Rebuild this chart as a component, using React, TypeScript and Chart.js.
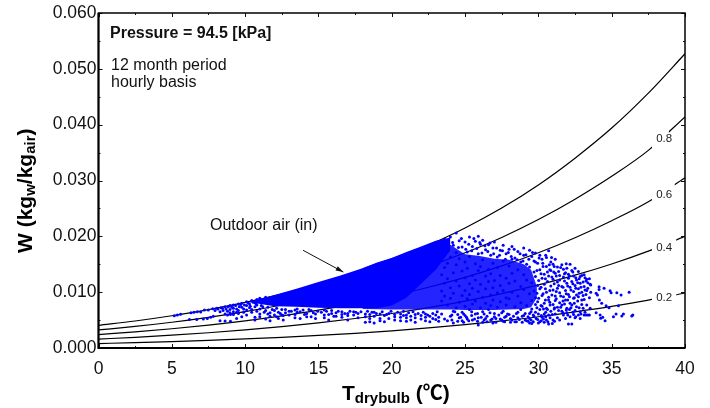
import React, { useEffect, useRef } from "react";
import { Chart, registerables } from "chart.js";

Chart.register(...registerables);

const FONT = '"Liberation Sans", Arial, sans-serif';
const temps = [0, 2.5, 5, 7.5, 10, 12.5, 15, 17.5, 20, 22.5, 25, 27.5, 30, 32.5, 35, 37.5, 40];
const rh100 = [0.00405, 0.00484, 0.00578, 0.00687, 0.00816, 0.00965, 0.01138, 0.01339, 0.01572, 0.01842, 0.0215, 0.02506, 0.0292, 0.034, 0.03939, 0.04565, 0.0527];
const rh80 = [0.00323, 0.00386, 0.00461, 0.00549, 0.00651, 0.0077, 0.00907, 0.01067, 0.01251, 0.01463, 0.01705, 0.0198, 0.023, 0.02665, 0.03075, 0.0354, 0.0414];
const rh60 = [0.00241, 0.00289, 0.00345, 0.0041, 0.00486, 0.00575, 0.00677, 0.00795, 0.00931, 0.01088, 0.01265, 0.0147, 0.01705, 0.01975, 0.0228, 0.0262, 0.0305];
const rh40 = [0.0016, 0.00192, 0.0023, 0.00273, 0.00324, 0.00382, 0.0045, 0.00528, 0.00618, 0.00722, 0.0084, 0.00975, 0.0113, 0.01305, 0.01505, 0.01735, 0.02];
const rh20 = [0.0008, 0.00096, 0.00115, 0.00137, 0.00162, 0.00191, 0.00225, 0.00263, 0.00308, 0.0036, 0.00418, 0.00485, 0.0056, 0.00648, 0.00745, 0.00858, 0.00985];

// Dense part of the cloud: [T, upper W, lower W]
const coreBand = [
  [10.3, 8.3, 8.2], [12, 9.5, 7.5], [13.5, 10.6, 7.4], [15, 11.8, 7.2], [16.5, 13.0, 7.1], [18, 14.3, 7.1], [19, 15.3, 7.1],
  [20, 16.1, 7.6], [21, 17.2, 9.0], [22, 18.2, 11.5], [23, 19.2, 14.0], [24, 19.8, 17.5],
];
const bodyBand = [
  [18, 14.3, 7.0], [20, 16.1, 6.9], [22, 18.0, 6.9], [24, 18.5, 6.9], [25, 16.8, 6.8], [26, 16.5, 6.8], [27, 16.0, 6.8],
  [28, 15.8, 6.9], [29, 15.0, 7.0], [29.5, 14.0, 7.3], [29.9, 11.0, 9.0],
];

// Individually read points: [T, W1, W2, ...], W in g/kg
const cloudRows: number[][] = [
  [5.17, 5.79], [5.38, 5.91], [5.6, 6.03], [6.2, 5.1], [6.31, 6.33], [6.51, 6.39], [6.7, 5.1], [6.74, 6.5], [6.97, 6.45], [7.15, 5.2],
  [7.22, 6.8], [7.42, 5.3], [7.49, 6.8], [7.65, 5.5], [7.79, 7.04], [7.83, 5.7], [8.06, 7.1], [8.29, 4.9, 6.5], [8.36, 7.2], [8.5, 6.7],
  [8.63, 7.4, 4.84, 6.1], [8.8, 6.6, 5.9], [8.97, 7.6, 6.9, 6.3], [9.0, 4.8, 6.0], [9.2, 7.7, 7.1, 6.5, 6.0], [9.42, 5.3, 6.4, 7.0], [9.54, 7.9, 6.2, 6.7],
  [9.77, 5.6, 7.3, 8.0], [9.9, 7.0, 6.4], [10.1, 8.3, 7.6, 5.9, 6.8], [10.3, 7.9, 7.2], [10.45, 8.5, 6.9, 6.4], [10.67, 5.0, 5.5, 7.4, 8.1], [10.8, 8.7, 6.6, 7.7],
  [11.0, 8.9, 7.0, 6.1, 5.6], [11.2, 8.2, 7.4], [11.4, 9.1, 6.7, 5.2], [11.7, 6.3, 5.7, 4.9], [12.0, 5.9, 6.7], [12.27, 6.4, 5.3], [12.5, 6.9, 5.9],
  [12.6, 5.8, 5.0], [13.0, 5.9, 6.6], [13.4, 6.0, 5.4, 6.8], [13.75, 5.3, 6.5], [14.2, 6.2, 5.6], [14.5, 5.6, 6.7], [14.8, 5.3, 6.1], [15.4, 6.8, 5.9, 5.4],
  [15.7, 6.0, 5.0], [16.2, 6.3, 5.7], [16.6, 6.5, 5.5, 6.0], [17.0, 6.2, 5.8, 5.0], [17.4, 5.9, 6.5], [17.7, 6.2, 5.4], [18.2, 6.1, 5.6, 4.6], [18.5, 5.3, 4.7, 6.0],
  [18.8, 4.5, 5.7, 6.4], [19.2, 5.3, 4.9, 6.1], [19.5, 4.7, 5.8], [19.8, 5.3, 6.2], [20.2, 5.0, 5.6, 6.0], [20.6, 4.9, 5.5, 6.1], [21.0, 5.4, 4.8, 5.9], [21.3, 5.7, 5.0],
  [21.6, 4.6, 5.4, 6.0], [22.0, 5.2, 5.8], [22.3, 4.9, 5.5, 6.1], [22.6, 5.7, 4.7], [23.0, 5.1, 5.9], [23.2, 4.8, 5.5, 17.4, 15.8],
  [23.4, 18.9, 16.8, 13.1, 10.2, 8.4, 6.1], [23.6, 19.5, 14.4, 11.6, 9.3, 5.2], [23.8, 17.9, 15.2, 12.4, 7.7, 4.9], [24.0, 19.9, 16.3, 10.8, 8.9, 5.7],
  [24.2, 18.4, 13.5, 9.8, 4.5, 6.6], [24.4, 20.6, 17.1, 14.9, 12.0, 7.2], [24.6, 19.2, 16.0, 11.1, 8.2, 5.4], [24.8, 18.1, 13.8, 9.4, 6.4, 4.9],
  [25.0, 19.0, 15.4, 12.6, 10.3, 7.5, 5.8], [25.15, 17.2, 14.3, 8.8, 5.2], [25.3, 19.9, 16.4, 11.5, 9.6, 6.9], [25.5, 18.2, 13.0, 10.7, 7.9, 5.0],
  [25.7, 19.1, 15.1, 12.2, 8.4, 6.1], [25.9, 20.0, 16.9, 13.9, 10.1, 4.1, 5.4], [26.05, 18.6, 14.6, 11.4, 7.2], [26.2, 19.3, 15.8, 9.1, 6.5, 4.6],
  [26.4, 17.6, 12.9, 10.6, 8.0, 5.3], [26.6, 18.5, 14.1, 11.9, 6.9], [26.75, 16.6, 13.3, 9.5, 7.6, 5.0], [26.9, 17.9, 15.2, 10.8, 8.6, 4.5],
  [27.0, 19.0, 12.1, 6.2, 5.6], [27.2, 16.3, 14.4, 9.9, 7.3], [27.4, 17.5, 13.0, 11.2, 8.3, 5.2], [27.6, 18.4, 15.6, 10.3, 6.6, 4.8],
  [27.8, 16.9, 12.5, 9.0, 7.7, 5.7], [28.0, 17.7, 14.7, 11.6, 8.8, 6.0], [28.2, 18.2, 15.9, 13.4, 10.0, 5.0], [28.4, 16.1, 12.0, 7.4, 4.7],
  [28.6, 17.3, 14.0, 9.3, 6.4, 5.4], [28.8, 15.4, 11.0, 8.1, 6.9], [29.0, 17.9, 16.6, 13.1, 10.5, 5.8], [29.2, 15.0, 12.2, 7.6, 4.9],
  [29.4, 17.5, 14.5, 9.7, 6.2, 5.3, 4.5], [29.55, 16.4, 11.7, 8.5, 7.0, 4.4], [29.7, 13.6, 10.2, 5.7, 15.6], [29.8, 17.0, 12.8, 9.0, 7.8, 6.4],
  [29.95, 15.2, 11.2, 8.3, 5.1], [30.1, 16.6, 14.0, 10.6, 6.9, 4.7], [30.25, 15.9, 12.5, 9.4, 7.5, 5.5], [30.4, 13.2, 11.4, 8.0, 6.1, 4.6],
  [30.55, 16.2, 14.6, 10.0, 7.1, 5.0], [30.7, 17.4, 12.9, 9.1, 8.6, 4.3, 5.9], [30.85, 15.4, 11.1, 13.9, 6.6], [31.0, 15.0, 10.4, 7.8, 5.0, 12.3],
  [31.15, 15.9, 13.4, 9.3, 6.1, 8.5], [31.3, 14.5, 11.8, 7.3, 5.4, 10.7], [31.45, 13.0, 9.9, 8.1, 5.0, 12.2], [31.6, 14.9, 11.0, 6.6, 7.7],
  [31.71, 14.1, 5.9, 9.2, 12.7], [31.85, 13.5, 10.3, 8.6, 5.3], [31.94, 14.3, 11.6, 7.1, 6.3], [32.05, 12.5, 9.6, 4.3, 13.2], [32.16, 15.0, 10.9, 8.0, 5.6],
  [32.28, 13.9, 11.9, 7.7, 4.3], [32.4, 12.9, 10.1, 8.9, 6.0], [32.5, 14.3, 11.2, 6.7, 5.4], [32.6, 12.2, 9.5, 7.4], [32.73, 13.7, 10.6, 9.2, 5.9],
  [32.85, 11.6, 12.8, 5.3, 6.5], [32.96, 8.6, 10.0, 13.0, 7.8], [33.12, 8.7, 11.0, 13.1, 5.9], [33.25, 5.91, 9.6, 12.0], [33.3, 7.7, 10.3, 12.3],
  [33.37, 5.91, 10.7, 11.7], [33.48, 5.91, 9.0, 12.4], [33.53, 7.1, 11.4], [33.57, 11.3, 10.0], [33.94, 9.79, 6.33], [34.03, 9.49], [34.14, 10.98, 10.5],
  [34.16, 8.59], [34.21, 5.91], [34.25, 5.31], [34.32, 8.0], [34.39, 5.49], [34.48, 10.68], [34.55, 4.89], [34.62, 7.58], [34.82, 7.22],
  [34.89, 10.27], [34.96, 9.91], [35.12, 5.61], [35.3, 6.09], [35.35, 9.91], [35.46, 7.58], [35.64, 9.49], [35.69, 5.73], [35.8, 6.09],
  [36.19, 9.97], [36.37, 5.73], [36.44, 5.91],
];
const edgeRows: number[][] = [
  [7.95, 6.7], [8.15, 7.0], [8.45, 7.1], [8.7, 7.0], [8.85, 7.4], [9.1, 7.3], [9.35, 7.6], [9.6, 7.4], [9.7, 7.8], [9.95, 7.7], [10.2, 8.1], [10.35, 7.5], [10.55, 8.2], [10.75, 7.9],
  [11.1, 7.6], [11.3, 6.4], [11.55, 7.3, 6.1], [11.85, 6.9], [12.15, 7.1, 5.6], [12.4, 6.2], [12.75, 6.9, 6.3], [13.15, 6.6], [13.55, 6.4, 7.0], [13.95, 6.8], [14.05, 6.0], [14.35, 6.9],
  [14.65, 6.3], [14.95, 6.6], [15.2, 6.4], [15.55, 6.6], [15.9, 6.7, 6.2], [16.05, 5.7], [16.35, 6.6], [16.8, 6.2], [17.15, 6.6], [17.55, 6.4], [17.9, 6.5], [18.35, 6.6], [18.65, 6.4],
  [18.95, 6.2], [19.35, 6.5], [19.65, 6.0], [19.95, 6.6], [20.4, 6.4], [20.8, 6.6, 5.8], [21.15, 6.3], [21.45, 6.5], [21.8, 6.2], [22.15, 6.4], [22.45, 5.9], [22.8, 6.2, 5.3], [23.1, 6.5],
  [24.1, 5.9, 5.0], [24.3, 6.5], [24.5, 4.8, 6.0], [24.7, 5.5], [24.9, 6.1, 4.6], [25.1, 5.5], [25.25, 4.9], [25.45, 5.8, 6.5], [25.65, 5.2], [25.85, 4.8, 6.2], [26.1, 5.5], [26.3, 5.0, 6.1],
  [26.5, 5.7, 4.7], [26.7, 6.3], [26.85, 5.2], [27.1, 5.3, 4.6], [27.3, 5.9], [27.5, 5.0, 6.3], [27.7, 4.7, 5.5], [27.9, 6.1], [28.1, 5.3, 4.6], [28.3, 5.7], [28.5, 4.7, 6.2], [28.7, 5.1],
  [28.9, 5.7, 4.6], [29.1, 6.2, 5.0], [29.3, 5.6, 4.8], [29.5, 6.5, 5.0], [29.65, 4.7, 5.9], [29.85, 5.3], [30.0, 4.5, 6.1], [30.2, 4.9, 5.8], [30.35, 5.2, 7.0], [30.5, 6.4, 5.6], [30.65, 4.7],
  [30.8, 5.4, 7.7], [30.95, 4.4, 6.0], [31.1, 4.8, 7.2],
  [24.15, 18.9], [24.55, 18.0], [24.75, 19.6], [25.05, 17.7], [25.25, 18.6], [25.45, 17.4], [25.6, 19.6], [25.8, 17.8], [26.0, 18.9], [26.15, 17.0], [26.35, 18.3], [26.55, 17.3], [26.7, 18.8],
  [26.95, 16.9], [27.15, 17.9], [27.35, 16.6], [27.55, 17.4], [27.75, 15.9], [27.95, 17.1], [28.15, 16.4], [28.35, 17.7], [28.55, 15.8], [28.75, 16.9], [28.95, 15.6], [29.15, 16.7], [29.35, 15.9],
  [29.6, 17.1], [29.8, 15.4], [30.05, 16.1], [30.3, 15.2], [30.5, 16.6], [30.75, 14.9], [30.9, 16.2], [31.05, 13.6],
  [29.9, 13.9, 9.8, 7.2], [30.02, 12.1, 8.9], [30.18, 13.3, 10.9, 7.6], [30.32, 14.6, 9.7], [30.48, 12.4, 8.6, 10.6], [30.62, 13.6, 11.9, 6.9], [30.78, 10.3, 8.2, 14.0], [30.92, 12.7, 9.5],
  [31.08, 11.5, 7.0, 14.6], [31.22, 12.9, 8.8, 10.1], [31.38, 13.7, 11.2, 6.7], [31.52, 9.3, 7.3, 14.4], [31.68, 10.9, 8.4, 6.3], [31.78, 12.0, 13.3, 7.9], [31.9, 9.7, 6.8, 15.1], [32.0, 8.6, 11.1, 5.9],
  [32.12, 12.9, 9.2, 6.9], [32.22, 10.4, 7.2], [32.35, 11.5, 13.6, 6.4], [32.45, 9.0, 8.0], [32.55, 10.7, 12.6, 5.6], [32.68, 8.4, 11.7], [32.78, 7.2, 9.8, 12.4], [32.9, 10.9, 6.1],
  [33.05, 9.4, 11.8, 7.1], [33.18, 10.4, 6.4, 12.6],
];

const curveLabels = [
  { text: "0.8", t: 38.85, w: 0.03745, top: 0.0412, bottom: 0.0340, boxEnd: 38.9 },
  { text: "0.6", t: 38.85, w: 0.02745, top: 0.0304, bottom: 0.0256, boxEnd: 39.3 },
  { text: "0.4", t: 38.85, w: 0.01795, top: 0.0198, bottom: 0.0168, boxEnd: 39.4 },
  { text: "0.2", t: 38.85, w: 0.00895, top: 0.0102, bottom: 0.0082, boxEnd: 39.4 },
];
const arrowTail = { x: 13.95, y: 0.0175 };
const arrowTip = { x: 16.7, y: 0.0136 };
const xMajor = [0, 5, 10, 15, 20, 25, 30, 35, 40];
const xMinor = [2.5, 7.5, 12.5, 17.5, 22.5, 27.5, 32.5, 37.5];
const yMajor = [0, 0.01, 0.02, 0.03, 0.04, 0.05, 0.06];
const yMinor = [0.005, 0.015, 0.025, 0.035, 0.045, 0.055];

function drawRuns(ctx: CanvasRenderingContext2D, runs: { t: string; f: string; dy?: number }[], x: number, y: number) {
  let cx = x;
  for (const r of runs) {
    ctx.font = r.f;
    ctx.fillText(r.t, cx, y + (r.dy || 0));
    cx += ctx.measureText(r.t).width;
  }
}

const chrome = {
  id: "chrome",
  afterDatasetsDraw(chart: any) {
    const { ctx, scales: { x, y }, chartArea: a } = chart;
    ctx.save();
    ctx.textBaseline = "middle";
    ctx.textAlign = "left";
    for (const l of curveLabels) {
      ctx.fillStyle = "#fff";
      const lx = x.getPixelForValue(37.75);
      const rx = x.getPixelForValue(l.boxEnd);
      const ty = y.getPixelForValue(l.top);
      const by = y.getPixelForValue(l.bottom);
      ctx.fillRect(lx, ty, rx - lx, by - ty);
      ctx.fillStyle = "#222";
      ctx.font = `11.5px ${FONT}`;
      ctx.fillText(l.text, x.getPixelForValue(l.t) - 12, y.getPixelForValue(l.w));
    }
    ctx.strokeStyle = "#111";
    ctx.lineWidth = 1;
    const vt = (v: number, len: number) => {
      const p = Math.round(x.getPixelForValue(v)) + 0.5;
      ctx.beginPath();
      ctx.moveTo(p, a.bottom); ctx.lineTo(p, a.bottom - len);
      ctx.moveTo(p, a.top); ctx.lineTo(p, a.top + len);
      ctx.stroke();
    };
    const ht = (v: number, len: number) => {
      const p = Math.round(y.getPixelForValue(v)) + 0.5;
      ctx.beginPath();
      ctx.moveTo(a.left, p); ctx.lineTo(a.left + len, p);
      ctx.moveTo(a.right, p); ctx.lineTo(a.right - len, p);
      ctx.stroke();
    };
    xMajor.forEach((v) => vt(v, 4));
    xMinor.forEach((v) => vt(v, 2));
    yMajor.forEach((v) => ht(v, 4));
    yMinor.forEach((v) => ht(v, 2));
    ctx.strokeStyle = "#000";
    ctx.lineWidth = 1.5;
    ctx.strokeRect(a.left, a.top, a.right - a.left, a.bottom - a.top);
    ctx.lineWidth = 2;
    ctx.beginPath();
    ctx.moveTo(a.left, a.top); ctx.lineTo(a.left, a.bottom); ctx.lineTo(a.right, a.bottom);
    ctx.stroke();
    ctx.fillStyle = "#111";
    ctx.textBaseline = "alphabetic";
    ctx.font = `bold 16px ${FONT}`;
    ctx.fillText("Pressure = 94.5 [kPa]", 110, 38);
    ctx.font = `16px ${FONT}`;
    ctx.fillText("12 month period", 111, 70);
    ctx.fillText("hourly basis", 111, 87);
    ctx.fillText("Outdoor air (in)", 210, 230);
    const tx = x.getPixelForValue(arrowTail.x), ty = y.getPixelForValue(arrowTail.y);
    const hx = x.getPixelForValue(arrowTip.x), hy = y.getPixelForValue(arrowTip.y);
    ctx.strokeStyle = "#111";
    ctx.lineWidth = 1;
    ctx.beginPath(); ctx.moveTo(tx, ty); ctx.lineTo(hx, hy); ctx.stroke();
    const ang = Math.atan2(hy - ty, hx - tx);
    ctx.beginPath();
    ctx.moveTo(hx, hy);
    ctx.lineTo(hx - 8 * Math.cos(ang - 0.3), hy - 8 * Math.sin(ang - 0.3));
    ctx.lineTo(hx - 8 * Math.cos(ang + 0.3), hy - 8 * Math.sin(ang + 0.3));
    ctx.closePath();
    ctx.fill();
    ctx.fillStyle = "#000";
    const big = `bold 21px ${FONT}`;
    const sub = `bold 15px ${FONT}`;
    drawRuns(ctx, [
      { t: "T", f: big },
      { t: "drybulb", f: sub, dy: 3 },
      { t: " (", f: big },
      { t: "℃", f: `bold 20px "Noto Sans CJK SC", ${FONT}` },
      { t: ")", f: big },
    ], 342, 400);
    ctx.translate(32, 253);
    ctx.rotate(-Math.PI / 2);
    drawRuns(ctx, [
      { t: "W (kg", f: big },
      { t: "w", f: sub, dy: 3 },
      { t: "/kg", f: big },
      { t: "air", f: sub, dy: 3 },
      { t: ")", f: big },
    ], 0, 0);
    ctx.restore();
  },
};

export default function App() {
  const ref = useRef<HTMLCanvasElement>(null);
  useEffect(() => {
    document.body.style.margin = "0";
    const curve = (vals: number[], label: string) => ({
      type: "line" as const,
      label,
      data: temps.map((t, i) => ({ x: t, y: vals[i] })),
      borderColor: "#000",
      borderWidth: 1.2,
      pointRadius: 0,
      cubicInterpolationMode: "monotone" as const,
      fill: false,
      order: 10,
    });
    const band = (rows: number[][], idx: number, label: string, fill: any, bg: string, order: number) => ({
      type: "line" as const,
      label,
      data: rows.map((r) => ({ x: r[0], y: r[idx] / 1000 })),
      borderWidth: 0,
      borderColor: "transparent",
      backgroundColor: bg,
      pointRadius: 0,
      fill,
      order,
    });
    const chart = new Chart(ref.current!, {
      type: "scatter",
      data: {
        datasets: [
          {
            type: "scatter",
            label: "Outdoor air (in)",
            data: [...cloudRows, ...edgeRows].flatMap((r) => r.slice(1).map((w) => ({ x: r[0], y: w / 1000 }))),
            backgroundColor: "#0000ff",
            borderWidth: 0,
            pointRadius: 1.5,
            order: 1,
          },
          band(coreBand, 1, "core upper", "+1", "#0000ff", 2),
          band(coreBand, 2, "core lower", false, "transparent", 2),
          band(bodyBand, 1, "body upper", "+1", "rgba(0,0,255,0.86)", 3),
          band(bodyBand, 2, "body lower", false, "transparent", 3),
          curve(rh100, "1.0"),
          curve(rh80, "0.8"),
          curve(rh60, "0.6"),
          curve(rh40, "0.4"),
          curve(rh20, "0.2"),
        ] as any,
      },
      options: {
        animation: false,
        responsive: false,
        layout: { padding: { left: 0, top: 13, right: 25, bottom: 0 } },
        plugins: { legend: { display: false }, tooltip: { enabled: false } },
        scales: {
          x: {
            type: "linear",
            min: 0,
            max: 40,
            grid: { display: false, drawTicks: false },
            border: { display: false },
            afterFit: (s: any) => { s.height = 60; },
            ticks: { stepSize: 5, padding: 11, maxRotation: 0, color: "#111", font: { family: FONT, size: 17.5 } },
          },
          y: {
            min: 0,
            max: 0.06,
            grid: { display: false, drawTicks: false },
            border: { display: false },
            afterFit: (s: any) => { s.width = 98.5; },
            ticks: {
              stepSize: 0.01,
              padding: 2,
              color: "#111",
              font: { family: FONT, size: 17.5 },
              callback: (v: any) => Number(v).toFixed(3),
            },
          },
        },
      },
      plugins: [chrome],
    } as any);
    return () => chart.destroy();
  }, []);
  return (
    <div style={{ position: "fixed", left: 0, top: 0, width: 710, height: 408, background: "#fff" }}>
      <canvas ref={ref} width={710} height={408} style={{ display: "block" }} />
    </div>
  );
}
